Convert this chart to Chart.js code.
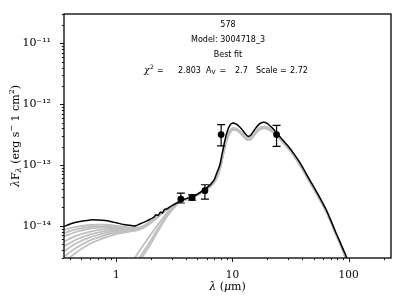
<!DOCTYPE html>
<html><head><meta charset="utf-8">
<script src="https://cdn.jsdelivr.net/npm/chart.js@4/dist/chart.umd.min.js"></script>
<style>html,body{margin:0;padding:0;background:#fff;overflow:hidden}canvas{display:block}</style>
</head><body>
<canvas id="c" width="406" height="303"></canvas>
<script>
// ---------- DATA ----------
// Best-fit model (black)
const fitLam = [0.355,0.40,0.45,0.5,0.6,0.7,0.8,0.89,1.0,1.16,1.3,1.41,1.5,1.61,1.8,1.96,2.1,2.2,2.3,2.4,2.5,2.6,2.75,2.9,3.1,3.3,3.6,4.0,4.5,5.0,5.8,6.5,7.0,7.3,7.8,8.2,8.6,9.0,9.5,10.1,11,12,13,13.7,14.5,15.5,17,18.6,20,22,24,27,30,33.3,38,46,55,64,72,78,86,95.6,100];
const fitFlux = [9.7e-15,1.07e-14,1.14e-14,1.19e-14,1.25e-14,1.24e-14,1.22e-14,1.18e-14,1.12e-14,1.05e-14,1.02e-14,9.9e-15,1.01e-14,1.08e-14,1.18e-14,1.28e-14,1.38e-14,1.52e-14,1.48e-14,1.68e-14,1.62e-14,1.85e-14,1.9e-14,2.05e-14,2.2e-14,2.35e-14,2.6e-14,2.8e-14,3.0e-14,3.3e-14,4.0e-14,4.8e-14,5.8e-14,7.2e-14,1.0e-13,1.6e-13,2.5e-13,3.5e-13,4.5e-13,4.9e-13,4.6e-13,3.9e-13,3.2e-13,2.95e-13,3.15e-13,3.8e-13,4.7e-13,5.05e-13,4.8e-13,4.1e-13,3.4e-13,2.6e-13,2.08e-13,1.6e-13,1.1e-13,5.8e-14,3.2e-14,1.85e-14,1.1e-14,7.6e-15,5.0e-15,3.1e-15,2.5e-15];

// Other good-fit models (grey): short-wavelength parts
const grayShortLam = [0.355,0.45,0.6,0.8,1.0,1.3,1.6,2.0,2.5,3.0];
const grayS1 = [8.6e-15,9.6e-15,1.03e-14,1.04e-14,1.0e-14,9.4e-15,9.4e-15,1.2e-14,1.7e-14,2.1e-14];
const grayS2 = [7.6e-15,8.7e-15,9.6e-15,9.9e-15,9.7e-15,9.2e-15,9.3e-15,1.18e-14,1.68e-14,2.1e-14];
const grayS3 = [6.7e-15,7.9e-15,9.0e-15,9.4e-15,9.4e-15,9.0e-15,9.2e-15,1.17e-14,1.67e-14,2.1e-14];
const grayS4 = [5.5e-15,6.8e-15,8.0e-15,8.8e-15,9.0e-15,8.8e-15,9.1e-15,1.16e-14,1.66e-14,2.1e-14];
const grayS5 = [4.6e-15,5.9e-15,7.2e-15,8.2e-15,8.6e-15,8.6e-15,9.0e-15,1.15e-14,1.65e-14,2.1e-14];
const grayS6 = [3.8e-15,5.1e-15,6.5e-15,7.6e-15,8.2e-15,8.4e-15,8.9e-15,1.14e-14,1.64e-14,2.1e-14];
const grayS7 = [3.1e-15,4.3e-15,5.8e-15,7.0e-15,7.8e-15,8.2e-15,8.8e-15,1.13e-14,1.63e-14,2.1e-14];
const grayS8 = [2.5e-15,3.6e-15,5.1e-15,6.4e-15,7.3e-15,8.0e-15,8.7e-15,1.12e-14,1.62e-14,2.1e-14];
// disk-only grey models
const grayD1Lam = [1.3,1.5,1.8,2.2,2.6,3.0];
const grayD1 = [2.2e-15,3.3e-15,5.5e-15,9.5e-15,1.45e-14,2.0e-14];
const grayD2Lam = [1.4,1.6,1.9,2.2,2.6,3.0];
const grayD2 = [2.2e-15,3.1e-15,5.0e-15,8.0e-15,1.3e-14,1.9e-14];
const grayD3Lam = [1.5,1.7,2.0,2.4,2.8,3.2];
const grayD3 = [2.3e-15,3.2e-15,5.2e-15,9.5e-15,1.5e-14,2.05e-14];
// grey models: infrared parts
const grayIRLam = [3.6,4.5,5.8,6.5,7.0,7.5,8.0,8.5,9.0,9.5,10.1,11,12,13,13.7,14.5,15.5,17,18.6,20,22,24,27,30,33.3,38,46,55,64,72,78,86,95,100];
const grayIRA = [2.55e-14,2.9e-14,3.8e-14,4.5e-14,5.3e-14,6.8e-14,1.05e-13,1.8e-13,2.7e-13,3.4e-13,3.8e-13,3.7e-13,3.2e-13,2.72e-13,2.58e-13,2.7e-13,3.15e-13,3.8e-13,4.05e-13,3.95e-13,3.55e-13,3.05e-13,2.4e-13,1.92e-13,1.48e-13,1.02e-13,5.4e-14,3.0e-14,1.75e-14,1.05e-14,7.2e-15,4.7e-15,2.9e-15,2.4e-15];
const grayIRB = [2.6e-14,2.95e-14,3.9e-14,4.6e-14,5.5e-14,7.2e-14,1.15e-13,1.95e-13,2.9e-13,3.6e-13,4.0e-13,3.85e-13,3.35e-13,2.85e-13,2.7e-13,2.85e-13,3.3e-13,4.0e-13,4.25e-13,4.15e-13,3.7e-13,3.15e-13,2.5e-13,2.0e-13,1.55e-13,1.07e-13,5.6e-14,3.1e-14,1.8e-14,1.08e-14,7.4e-15,4.85e-15,3.0e-15,2.45e-15];

// Observed photometry
const obsLam  = [3.6, 4.5, 5.8, 8.0, 24];
const obsFlux = [2.75e-14, 2.92e-14, 3.78e-14, 3.16e-13, 3.16e-13];
const obsLow  = [2.37e-14, 2.65e-14, 2.75e-14, 2.07e-13, 2.02e-13];
const obsHigh = [3.45e-14, 3.22e-14, 4.73e-14, 4.6e-13, 4.5e-13];

// Axis ranges and ticks
const xMin = 0.355, xMax = 232;
const yMin = 2.95e-15, yMax = 3.05e-11;
const xMajor = [1, 10, 100];
const xMajorLabels = ['1', '10', '100'];
const yMajor = [1e-14, 1e-13, 1e-12, 1e-11];
const yMajorLabels = ['10\u207B\u00B9\u2074', '10\u207B\u00B9\u00B3', '10\u207B\u00B9\u00B2', '10\u207B\u00B9\u00B9'];

// Annotation text
const titleLines = ['578', 'Model: 3004718_3', 'Best fit'];
const chi2 = '2.803', av = '2.7', scaleVal = '2.72';

// ---------- BUILD ----------
const pts = (l, f) => l.map((v, i) => ({x: v, y: f[i]}));
const join = (l1, f1, l2, f2) => pts(l1.concat(l2), f1.concat(f2));
const GRAY = '#c0c0c0';
const grayDefs = [
  [grayShortLam, grayS1, grayIRB], [grayShortLam, grayS2, grayIRA], [grayShortLam, grayS3, grayIRB],
  [grayShortLam, grayS4, grayIRA], [grayShortLam, grayS5, grayIRB], [grayShortLam, grayS6, grayIRA],
  [grayShortLam, grayS7, grayIRB], [grayShortLam, grayS8, grayIRA],
  [grayD1Lam, grayD1, grayIRA], [grayD2Lam, grayD2, grayIRB], [grayD3Lam, grayD3, grayIRA]
];
const datasets = grayDefs.map(g => ({
  data: join(g[0], g[1], grayIRLam, g[2]), order: 3,
  showLine: true, borderColor: GRAY, borderWidth: 1.8, pointRadius: 0, tension: 0.3, fill: false
}));
datasets.push({data: pts(fitLam, fitFlux), order: 2, showLine: true, borderColor: '#000', borderWidth: 1.5, pointRadius: 0, tension: 0.2, fill: false});
datasets.push({data: pts(obsLam, obsFlux), order: 1, showLine: false, pointRadius: 3.4, pointBackgroundColor: '#000', pointBorderColor: '#000', pointBorderWidth: 0});

function decadeTicks(min, max) {
  const out = [];
  for (let e = Math.floor(Math.log10(min)); e <= Math.ceil(Math.log10(max)); e++) {
    for (let m = 1; m <= 9; m++) {
      const v = m * Math.pow(10, e);
      if (v >= min * 0.999 && v <= max * 1.001) out.push(v);
    }
  }
  return out;
}
const isMajor = v => Math.abs(Math.log10(v) - Math.round(Math.log10(v))) < 1e-6;

const SERIF = '"DejaVu Serif", serif';
const SANS = '"DejaVu Sans", sans-serif';

const deco = {
  id: 'deco',
  afterDatasetsDraw(chart) {
    const {ctx, scales: {x, y}, chartArea: a} = chart;
    ctx.save();
    ctx.beginPath(); ctx.rect(a.left, a.top, a.right - a.left, a.bottom - a.top); ctx.clip();
    ctx.strokeStyle = '#000'; ctx.lineWidth = 1.2;
    for (let i = 0; i < obsLam.length; i++) {
      const px = x.getPixelForValue(obsLam[i]);
      const y1 = y.getPixelForValue(obsLow[i]), y2 = y.getPixelForValue(obsHigh[i]);
      ctx.beginPath();
      ctx.moveTo(px, y1); ctx.lineTo(px, y2);
      ctx.moveTo(px - 4, y1); ctx.lineTo(px + 4, y1);
      ctx.moveTo(px - 4, y2); ctx.lineTo(px + 4, y2);
      ctx.stroke();
    }
    ctx.restore();
  },
  afterDraw(chart) {
    const {ctx, scales: {x, y}, chartArea: a} = chart;
    ctx.save();
    // frame
    ctx.strokeStyle = '#000'; ctx.lineWidth = 1.3;
    ctx.strokeRect(a.left, a.top, a.right - a.left, a.bottom - a.top);
    // ticks
    ctx.lineWidth = 0.9;
    x.ticks.forEach(t => {
      const px = Math.round(x.getPixelForValue(t.value)) + 0.5;
      const len = isMajor(t.value) ? 4 : 2.2;
      ctx.beginPath(); ctx.moveTo(px, a.bottom); ctx.lineTo(px, a.bottom + len); ctx.stroke();
    });
    y.ticks.forEach(t => {
      const py = Math.round(y.getPixelForValue(t.value)) + 0.5;
      const len = isMajor(t.value) ? 4 : 2.2;
      ctx.beginPath(); ctx.moveTo(a.left, py); ctx.lineTo(a.left - len, py); ctx.stroke();
    });
    ctx.fillStyle = '#000';
    // x title
    ctx.textBaseline = 'middle';
    const xt = [['\u03BB', 'italic 11px ' + SERIF], [' (', '11px ' + SERIF], ['\u03BC', 'italic 11px ' + SERIF], ['m)', '11px ' + SERIF]];
    let w = 0; xt.forEach(p => { ctx.font = p[1]; w += ctx.measureText(p[0]).width; });
    let cx = (a.left + a.right) / 2 - w / 2;
    xt.forEach(p => { ctx.font = p[1]; ctx.textAlign = 'left'; ctx.fillText(p[0], cx, 287); cx += ctx.measureText(p[0]).width; });
    // y title (rotated)
    ctx.save();
    ctx.translate(16, (a.top + a.bottom) / 2);
    ctx.rotate(-Math.PI / 2);
    const yt = [['\u03BB', 'italic 11px ' + SERIF, 0], ['F', '11px ' + SERIF, 0], ['\u03BB', 'italic 8px ' + SERIF, 2.5],
                [' (erg s', '11px ' + SERIF, 0], ['\u2212', '8px ' + SERIF, -4], [' 1 cm', '11px ' + SERIF, 0], ['2', '8px ' + SERIF, -4], [')', '11px ' + SERIF, 0]];
    w = 0; yt.forEach(p => { ctx.font = p[1]; w += ctx.measureText(p[0]).width; });
    cx = -w / 2;
    yt.forEach(p => { ctx.font = p[1]; ctx.textAlign = 'left'; ctx.fillText(p[0], cx, p[2]); cx += ctx.measureText(p[0]).width; });
    ctx.restore();
    // annotation text
    ctx.font = '8px ' + SANS; ctx.textAlign = 'center';
    const ys = [25, 39.5, 54.5];
    titleLines.forEach((s, i) => ctx.fillText(s, 228, ys[i]));
    const ly = 70.5;
    ctx.textAlign = 'left';
    let px = 144;
    ctx.font = 'italic 9px ' + SERIF; ctx.fillText('\u03C7', px, ly); px += ctx.measureText('\u03C7').width;
    ctx.font = '6px ' + SANS; ctx.fillText('2', px + 0.5, ly - 3);
    ctx.font = '8px ' + SANS; ctx.fillText('=', 157, ly);
    ctx.fillText(chi2, 178, ly);
    px = 206; ctx.fillText('A', px, ly); px += ctx.measureText('A').width;
    ctx.font = '6px ' + SANS; ctx.fillText('V', px, ly + 2);
    ctx.font = '8px ' + SANS; ctx.fillText('=', 219.5, ly);
    ctx.fillText(av, 235, ly);
    ctx.fillText('Scale', 256, ly);
    ctx.fillText('=', 280, ly);
    ctx.fillText(scaleVal, 290, ly);
    ctx.restore();
  }
};

new Chart(document.getElementById('c'), {
  type: 'scatter',
  data: {datasets},
  options: {
    responsive: false, animation: false, devicePixelRatio: 1,
    layout: {padding: {top: 14, right: 15, left: 0, bottom: 0}},
    plugins: {legend: {display: false}, tooltip: {enabled: false}},
    scales: {
      x: {
        type: 'logarithmic', min: xMin, max: xMax,
        afterBuildTicks: s => { s.ticks = decadeTicks(xMin, xMax).map(v => ({value: v})); },
        afterFit: s => { s.height = 45; },
        grid: {display: false}, border: {display: false},
        ticks: {autoSkip: false, maxRotation: 0, minRotation: 0, padding: 3, color: '#000',
          font: {family: SERIF, size: 10.5},
          callback: v => { const i = xMajor.findIndex(m => Math.abs(m - v) / m < 1e-6); return i >= 0 ? xMajorLabels[i] : ''; }}
      },
      y: {
        type: 'logarithmic', min: yMin, max: yMax,
        afterBuildTicks: s => { s.ticks = decadeTicks(yMin, yMax).map(v => ({value: v})); },
        afterFit: s => { s.width = 64; },
        grid: {display: false}, border: {display: false},
        ticks: {autoSkip: false, padding: 5, color: '#000',
          font: {family: SERIF, size: 11},
          callback: v => { const i = yMajor.findIndex(m => Math.abs(m - v) / m < 1e-6); return i >= 0 ? yMajorLabels[i] : ''; }}
      }
    }
  },
  plugins: [deco]
});
</script></body></html>
